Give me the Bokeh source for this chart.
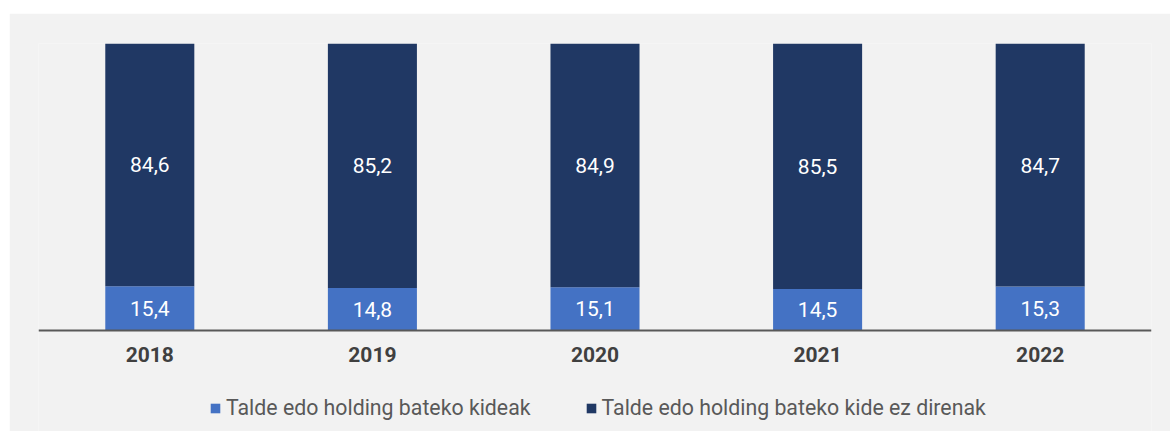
from bokeh.plotting import figure
from bokeh.models import ColumnDataSource, Range1d, FactorRange, Legend, LegendItem, Spacer
from bokeh.layouts import column, row
from bokeh.core.properties import value
from bokeh.embed import file_html
from bokeh.resources import INLINE

years = ["2018", "2019", "2020", "2021", "2022"]
members = [15.4, 14.8, 15.1, 14.5, 15.3]
non_members = [84.6, 85.2, 84.9, 85.5, 84.7]
series_names = ["Talde edo holding bateko kideak", "Talde edo holding bateko kide ez direnak"]
colors = ["#4472c4", "#203864"]

def fmt(v):
    return f"{v:.1f}".replace(".", ",")

src = ColumnDataSource(dict(
    year=years,
    members=members,
    non_members=non_members,
    m_mid=[m / 2 for m in members],
    n_mid=[m + n / 2 for m, n in zip(members, non_members)],
    m_lab=[fmt(v) for v in members],
    n_lab=[fmt(v) for v in non_members],
))

BG = "#f2f2f2"
p = figure(width=1161, height=418, x_range=FactorRange(*years, range_padding=0),
           y_range=Range1d(-35.19, 100), output_backend="svg", toolbar_location=None,
           min_border_left=29, min_border_right=19, min_border_top=30, min_border_bottom=0,
           background_fill_color=BG, border_fill_color=BG, outline_line_color=None)

rs = p.vbar_stack(["members", "non_members"], x="year", width=0.4, source=src,
                  color=colors, line_color=None)

p.text(x="year", y="m_mid", text="m_lab", source=src, text_color="white",
       text_font=value("Roboto"), text_font_size="21px", text_align="center",
       text_baseline="middle")
p.text(x="year", y="n_mid", text="n_lab", source=src, text_color="white",
       text_font=value("Roboto"), text_font_size="21px", text_align="center",
       text_baseline="middle")

p.yaxis.visible = False
p.xgrid.visible = False
p.ygrid.visible = False
xa = p.xaxis[0]
xa.fixed_location = 0
xa.axis_line_color = "#595959"
xa.axis_line_width = 2
xa.major_tick_line_color = None
xa.minor_tick_line_color = None
xa.major_label_text_font = "Roboto"
xa.major_label_text_font_size = "21px"
xa.major_label_text_font_style = "bold"
xa.major_label_text_color = "#404040"
xa.major_label_standoff = 10

legend = Legend(items=[LegendItem(label=series_names[0], renderers=[rs[0]]),
                       LegendItem(label=series_names[1], renderers=[rs[1]])],
                orientation="horizontal", location=(171, 11),
                padding=0, margin=0, spacing=54, label_standoff=5,
                glyph_width=12, glyph_height=12, label_height=12,
                label_text_font="Roboto", label_text_font_size="21.3px",
                label_text_color="#595959", background_fill_alpha=0,
                border_line_color=None)
p.add_layout(legend, "center")

layout = column(Spacer(width=1170, height=13), row(Spacer(width=9, height=418), p))
open("out.html", "w").write(file_html(layout, INLINE))
